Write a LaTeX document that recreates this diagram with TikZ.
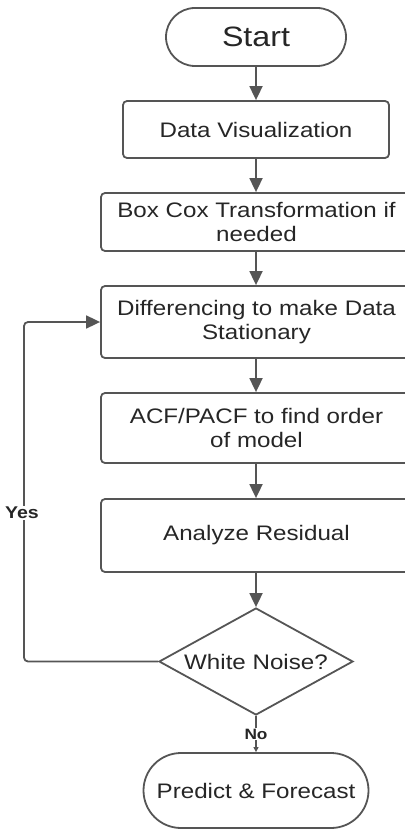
\documentclass[tikz,border=0pt]{standalone}
\usepackage{fontspec}
\setmainfont[FakeStretch=1.15]{Liberation Sans}
\usetikzlibrary{arrows.meta,shapes.geometric,shapes.misc}
\definecolor{lc}{HTML}{555555}
\definecolor{tc}{HTML}{262626}
\begin{document}
\begin{tikzpicture}[x=1pt,y=1pt,
  every node/.style={text=tc},
  box/.style={draw=lc, line width=1.8pt, rounded corners=4pt, inner sep=0pt,
    minimum width=311pt, align=center, font=\fontsize{21}{24}\selectfont},
  term/.style={draw=lc, line width=1.8pt, rounded rectangle, inner sep=0pt,
    font=\fontsize{21}{24}\selectfont},
  dec/.style={draw=lc, line width=1.8pt, diamond, aspect=1.81, inner sep=0pt,
    minimum width=194pt, minimum height=107pt, font=\fontsize{21}{24}\selectfont},
  arr/.style={draw=lc, line width=1.8pt, -{Triangle[width=13pt,length=14pt]}},
  lbl/.style={fill=white, inner sep=1pt, font=\bfseries\fontsize{15}{17}\selectfont}
]
\useasboundingbox (0,0) rectangle (404,-829);
\node[term, minimum width=180pt, minimum height=58pt, font=\fontsize{28}{30}\selectfont] (start) at (256,-37) {Start};
\node[box, minimum width=266pt, minimum height=57pt] (dv) at (256,-129.5) {Data Visualization};
\node[box, minimum height=58pt] (bc) at (256.5,-222) {Box Cox Transformation if\\needed};
\node[box, minimum height=72pt] (diff) at (256.5,-322) {Differencing to make Data\\Stationary};
\node[box, minimum height=70pt] (acf) at (256.5,-428) {ACF/PACF to find order\\of model};
\node[box, minimum height=73pt] (ar) at (256.5,-535.5) {Analyze Residual};
\node[dec] (wn) at (256,-661.5) {White Noise?};
\node[term, minimum width=225pt, minimum height=75pt] (pred) at (256,-790.5) {Predict \& Forecast};
\coordinate (lc) at (24,-661.5);
\draw[arr] (start.south) -- (dv.north);
\draw[arr] (dv.south) -- (bc.north -| dv.south);
\draw[arr] (bc.south -| dv.south) -- (diff.north -| dv.south);
\draw[arr] (diff.south -| dv.south) -- (acf.north -| dv.south);
\draw[arr] (acf.south -| dv.south) -- (ar.north -| dv.south);
\draw[arr] (ar.south -| wn.north) -- (wn.north);
\draw[draw=lc, line width=1.8pt, rounded corners=4pt, -{Triangle[width=13pt,length=14pt]}]
  (wn.west) -- (lc) -- (lc |- diff.west) -- (diff.west);
\node[lbl, font=\bfseries\fontsize{17}{19}\selectfont] (yes) at (22,-513) {Yes};
\draw[draw=lc, line width=1.8pt, -{Triangle[width=5pt,length=5pt]}] (wn.south) -- (pred.north)
  node[lbl, midway] (no) {No};
\end{tikzpicture}
\end{document}
